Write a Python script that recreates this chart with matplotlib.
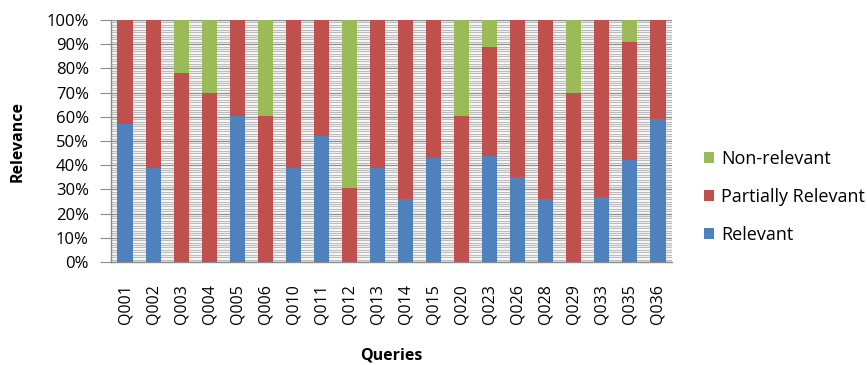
import matplotlib
matplotlib.use("Agg")
import matplotlib.pyplot as plt
import numpy as np
from matplotlib.ticker import MultipleLocator, FuncFormatter

queries = ["Q001", "Q002", "Q003", "Q004", "Q005", "Q006", "Q010", "Q011", "Q012", "Q013",
           "Q014", "Q015", "Q020", "Q023", "Q026", "Q028", "Q029", "Q033", "Q035", "Q036"]
relevant = [57, 39, 0, 0, 60.5, 0, 39, 52, 0, 39, 26, 43, 0, 44, 35, 26, 0, 27, 42, 59]
partially_relevant = [43, 61, 78, 70, 39.5, 60.5, 61, 48, 30.5, 61, 74, 57, 60.5, 45, 65, 74, 70, 73, 49, 41]
non_relevant = [0, 0, 22, 30, 0, 39.5, 0, 0, 69.5, 0, 0, 0, 39.5, 11, 0, 0, 30, 0, 9, 0]

blue = "#4F81BD"
red = "#C0504D"
green = "#9BBB59"

plt.rcParams["font.family"] = ["Open Sans", "DejaVu Sans"]

fig = plt.figure(figsize=(8.67, 3.65), dpi=100)
ax = fig.add_axes([111 / 867, 1 - 262 / 365, (672 - 111) / 867, (262 - 20) / 365])

x = np.arange(len(queries))
rel = np.array(relevant, dtype=float)
par = np.array(partially_relevant, dtype=float)
non = np.array(non_relevant, dtype=float)
tot = rel + par + non
rel_p, par_p, non_p = rel / tot, par / tot, non / tot

w = 0.54
ax.bar(x, rel_p, w, color=blue, label="Relevant", zorder=3)
ax.bar(x, par_p, w, bottom=rel_p, color=red, label="Partially Relevant", zorder=3)
ax.bar(x, non_p, w, bottom=rel_p + par_p, color=green, label="Non-relevant", zorder=3)

ax.set_xlim(-0.5, len(queries) - 0.5)
ax.set_ylim(0, 1)
ax.yaxis.set_major_locator(MultipleLocator(0.1))
ax.yaxis.set_minor_locator(MultipleLocator(0.01))
ax.yaxis.set_major_formatter(FuncFormatter(lambda v, p: f"{v * 100:.0f}%"))
ax.grid(axis="y", which="major", color="#909090", linewidth=1.0, zorder=1)
ax.grid(axis="y", which="minor", color="#bcbcbc", linewidth=0.9, zorder=0)
ax.tick_params(axis="y", which="major", length=8, color="#8c8c8c", labelsize=12, pad=8)
ax.tick_params(axis="y", which="minor", length=0)
ax.tick_params(axis="x", length=0, labelsize=11.5, pad=16)
ax.set_xticks(x)
ax.set_xticklabels(queries, rotation=90)

for s in ["top", "right"]:
    ax.spines[s].set_visible(False)
for s in ["left", "bottom"]:
    ax.spines[s].set_color("#8c8c8c")
    ax.spines[s].set_linewidth(1.0)

ax.set_ylabel("Relevance", fontsize=11.5, fontweight="bold", labelpad=15)
ax.set_xlabel("Queries", fontsize=11.5, fontweight="bold", labelpad=17)

handles, labels = ax.get_legend_handles_labels()
leg = fig.legend(handles[::-1], labels[::-1], loc="center left",
                 bbox_to_anchor=(688 / 867, 1 - 197 / 365), frameon=False,
                 fontsize=13, handlelength=0.55, handleheight=0.55,
                 handletextpad=0.4, labelspacing=1.1)

fig.savefig("out.png", dpi=100)
